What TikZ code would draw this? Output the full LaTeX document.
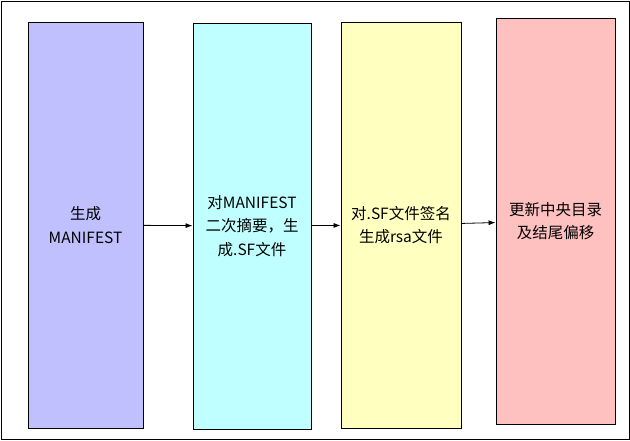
\documentclass[tikz,border=0pt]{standalone}
\usepackage{fontspec}
\setmainfont{Noto Sans CJK SC}
\usetikzlibrary{arrows.meta, positioning}
\definecolor{stPurple}{HTML}{C0C0FF}
\definecolor{stCyan}{HTML}{C0FFFF}
\definecolor{stYellow}{HTML}{FFFFC0}
\definecolor{stPink}{HTML}{FFC0C0}
\tikzset{
  stagebox/.style  = {draw=black, line width=0.9pt, minimum height=406pt,
                      inner sep=0pt, align=center,
                      font=\fontsize{15.5}{23.5}\selectfont},
  flowarrow/.style = {-{Latex[length=7pt, width=5pt]}, line width=0.8pt, black},
  frame/.style     = {draw=black, line width=1pt},
}

\begin{document}
\begin{tikzpicture}[x=1pt, y=-1pt]
  \useasboundingbox (0,0) rectangle (630,440);
  \draw[frame] (1.5,1.5) rectangle (629,439);

  \node[stagebox, fill=stPurple, minimum width=115pt] (manifest) at (85.5,225)
    {生成\\MANIFEST};
  \node[stagebox, fill=stCyan, minimum width=118pt] (sfdigest) at (252,226)
    {对MANIFEST\\二次摘要，生\\成.SF文件};
  \node[stagebox, fill=stYellow, minimum width=120pt] (rsasign) at (401,225)
    {对.SF文件签名\\生成rsa文件};
  \node[stagebox, fill=stPink, minimum width=119pt] (cdupdate) at (555.5,221)
    {更新中央目录\\及结尾偏移};

  \draw[flowarrow] (manifest) -- (sfdigest);
  \draw[flowarrow] (sfdigest) -- (rsasign);
  \draw[flowarrow] (rsasign) -- (cdupdate);
\end{tikzpicture}
\end{document}
